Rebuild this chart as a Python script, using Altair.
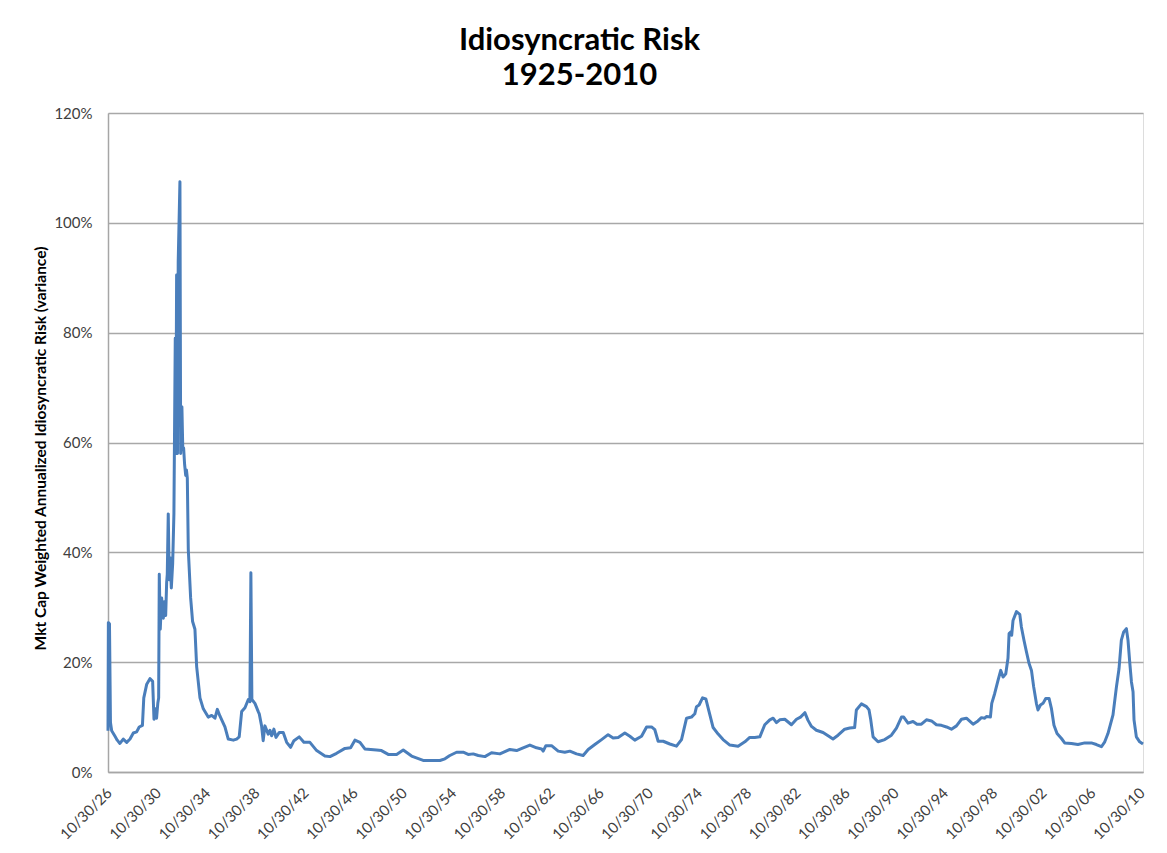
import altair as alt
import pandas as pd

# Decimal year of each reading and idiosyncratic risk (variance, in %)
years = [
    1926.75, 1926.78, 1926.87, 1926.95, 1927.05, 1927.32, 1927.50, 1927.72, 1927.99, 1928.27,
    1928.54, 1928.81, 1929.08, 1929.29, 1929.55, 1929.66, 1929.90, 1930.16, 1930.38, 1930.49,
    1930.60, 1930.70, 1930.80, 1930.87, 1930.92, 1931.00, 1931.11, 1931.25, 1931.33, 1931.44,
    1931.52, 1931.57, 1931.65, 1931.73, 1931.81, 1931.90, 1932.01, 1932.11, 1932.22, 1932.27,
    1932.33, 1932.40, 1932.46, 1932.60, 1932.66, 1932.76, 1932.83, 1932.90, 1932.98, 1933.07,
    1933.13, 1933.20, 1933.28, 1933.47, 1933.63, 1933.82, 1933.96, 1934.23, 1934.50, 1934.90,
    1935.18, 1935.45, 1935.64, 1935.85, 1936.26, 1936.53, 1936.94, 1937.21, 1937.42, 1937.62,
    1937.89, 1938.16, 1938.29, 1938.37, 1938.45, 1938.70, 1938.97, 1939.05, 1939.24, 1939.37,
    1939.51, 1939.78, 1939.92, 1940.06, 1940.24, 1940.41, 1940.68, 1941.00, 1941.28, 1941.60,
    1941.87, 1942.30, 1942.68, 1943.17, 1943.72, 1944.39, 1944.80, 1945.34, 1946.02, 1946.48,
    1946.83, 1947.24, 1947.64, 1948.59, 1948.99, 1949.54, 1950.22, 1950.76, 1951.44, 1952.38,
    1953.74, 1954.15, 1954.55, 1955.10, 1955.64, 1956.04, 1956.45, 1956.86, 1957.40, 1957.94,
    1958.62, 1959.43, 1959.98, 1960.51, 1961.06, 1961.60, 1962.01, 1962.14, 1962.36, 1962.82,
    1963.36, 1963.90, 1964.31, 1964.85, 1965.39, 1965.80, 1966.34, 1966.89, 1967.42, 1967.83,
    1968.24, 1968.78, 1969.19, 1969.59, 1970.14, 1970.55, 1970.95, 1971.22, 1971.49, 1971.90,
    1972.44, 1972.98, 1973.39, 1973.80, 1974.20, 1974.47, 1974.61, 1974.82, 1975.10, 1975.37,
    1975.63, 1975.96, 1976.37, 1976.77, 1977.32, 1977.99, 1978.54, 1978.94, 1979.35, 1979.76,
    1980.16, 1980.57, 1980.84, 1981.11, 1981.38, 1981.79, 1982.33, 1982.74, 1983.07, 1983.42,
    1983.68, 1983.96, 1984.36, 1984.90, 1985.31, 1985.71, 1986.12, 1986.66, 1987.07, 1987.47,
    1987.61, 1988.02, 1988.43, 1988.64, 1988.78, 1988.97, 1989.37, 1989.92, 1990.46, 1990.87,
    1991.28, 1991.46, 1991.81, 1992.22, 1992.54, 1992.90, 1993.31, 1993.72, 1994.12, 1994.53,
    1994.94, 1995.34, 1995.75, 1996.16, 1996.56, 1997.10, 1997.50, 1997.78, 1998.05, 1998.19,
    1998.51, 1998.62, 1998.86, 1999.13, 1999.35, 1999.54, 1999.76, 1999.94, 2000.03, 2000.16,
    2000.24, 2000.35, 2000.63, 2000.90, 2001.03, 2001.24, 2001.44, 2001.65, 2001.85, 2002.03,
    2002.25, 2002.38, 2002.58, 2002.79, 2003.01, 2003.28, 2003.47, 2003.68, 2003.93, 2004.29,
    2004.55, 2005.10, 2005.63, 2006.18, 2006.72, 2007.13, 2007.54, 2007.81, 2008.07, 2008.48,
    2008.76, 2008.97, 2009.16, 2009.35, 2009.57, 2009.70, 2009.84, 2009.98, 2010.11, 2010.19,
    2010.38, 2010.65, 2010.92,
]
risk_pct = [
    7.5, 27.2, 27.0, 9.0, 7.5, 6.5, 5.8, 5.2, 6.0, 5.4,
    6.0, 7.1, 7.3, 8.2, 8.5, 13.5, 16.0, 17.0, 16.5, 9.6,
    11.5, 9.8, 12.5, 13.5, 36.0, 26.0, 31.7, 28.0, 31.0, 28.5,
    34.5, 36.0, 47.0, 35.0, 39.0, 33.5, 38.0, 47.0, 79.0, 58.0,
    90.5, 58.0, 93.0, 107.5, 58.0, 66.5, 59.0, 59.0, 56.0, 54.0,
    55.0, 53.5, 40.5, 31.7, 27.4, 26.0, 19.2, 13.5, 11.5, 10.0,
    10.3, 9.8, 11.4, 10.2, 8.2, 6.0, 5.8, 6.0, 6.4, 11.0,
    11.7, 13.2, 12.8, 36.3, 13.2, 12.5, 11.0, 10.6, 8.4, 5.7,
    8.4, 6.9, 7.6, 6.6, 7.8, 6.3, 7.2, 7.2, 5.4, 4.5,
    5.7, 6.4, 5.4, 5.4, 3.9, 2.9, 2.8, 3.4, 4.3, 4.4,
    5.8, 5.4, 4.2, 4.0, 3.9, 3.2, 3.2, 4.0, 2.9, 2.1,
    2.1, 2.4, 3.0, 3.6, 3.6, 3.2, 3.3, 3.0, 2.8, 3.5,
    3.3, 4.1, 3.9, 4.4, 4.9, 4.4, 4.2, 3.8, 4.8, 4.8,
    3.8, 3.6, 3.8, 3.3, 3.0, 4.1, 5.0, 5.9, 6.8, 6.2,
    6.3, 7.1, 6.5, 5.8, 6.5, 8.2, 8.2, 7.7, 5.6, 5.6,
    5.1, 4.7, 5.9, 9.8, 10.0, 10.6, 11.9, 12.2, 13.5, 13.3,
    11.0, 8.1, 6.9, 5.9, 4.9, 4.7, 5.5, 6.3, 6.3, 6.4,
    8.6, 9.5, 9.8, 9.0, 9.5, 9.6, 8.6, 9.6, 10.0, 10.8,
    9.4, 8.3, 7.6, 7.2, 6.6, 6.0, 6.7, 7.8, 8.0, 8.1,
    11.3, 12.4, 11.9, 11.3, 9.5, 6.4, 5.5, 5.9, 6.7, 8.0,
    10.0, 10.0, 8.9, 9.2, 8.7, 8.7, 9.5, 9.3, 8.6, 8.5,
    8.2, 7.8, 8.4, 9.6, 9.8, 8.7, 9.3, 9.9, 9.8, 10.1,
    10.0, 12.5, 14.3, 16.7, 18.5, 17.3, 17.9, 20.7, 25.2, 25.5,
    24.9, 27.6, 29.2, 28.7, 26.4, 24.0, 21.9, 19.8, 18.5, 15.5,
    12.5, 11.3, 12.2, 12.5, 13.4, 13.4, 11.6, 8.5, 7.0, 6.1,
    5.3, 5.2, 5.0, 5.3, 5.3, 5.0, 4.6, 5.5, 7.0, 10.4,
    15.5, 18.8, 24.0, 25.5, 26.1, 24.0, 20.0, 16.4, 14.6, 9.5,
    6.4, 5.5, 5.1,
]

# Category labels of the x axis (10/30 of every fourth year)
label_years = list(range(1926, 2011, 4))
tick_positions = [y + 0.83 for y in label_years]
y_ticks = [0, 0.2, 0.4, 0.6, 0.8, 1.0, 1.2]

df = pd.DataFrame({"year": years, "risk": [v / 100 for v in risk_pct]})

font = "Lato"

line = alt.Chart(df).mark_line(color="#4a7ebb", strokeWidth=3, strokeJoin="round").encode(
    x=alt.X(
        "year:Q",
        scale=alt.Scale(domain=[1926.75, 2010.92], nice=False, zero=False),
        axis=alt.Axis(
            values=tick_positions,
            labelExpr="'10/30/' + substring(toString(floor(datum.value)), 2, 4)",
            labelAngle=-45,
            labelAlign="right",
            labelBaseline="middle",
            labelPadding=18,
            labelFontSize=15,
            labelColor="#404040",
            labelFont=font,
            ticks=False,
            grid=False,
            domainColor="#a6a6a6",
            domainWidth=1.5,
            title=None,
            labelOverlap=False,
        ),
    ),
    y=alt.Y(
        "risk:Q",
        scale=alt.Scale(domain=[0, 1.2], nice=False),
        axis=alt.Axis(
            values=y_ticks,
            format=".0%",
            labelFontSize=15,
            labelColor="#404040",
            labelFont=font,
            labelPadding=16,
            ticks=False,
            grid=True,
            gridColor="#a8a8a8",
            gridWidth=1.6,
            domainColor="#a6a6a6",
            domainWidth=1.5,
            title="Mkt Cap Weighted Annualized Idiosyncratic  Risk (variance)",
            titleFont=font,
            titleFontSize=15.5,
            titleFontWeight="bold",
            titleColor="#000000",
            titleAngle=-90,
            titleAlign="center",
            titleBaseline="middle",
            titleX=-68,
            titleY=335,
        ),
    ),
)

chart = line.properties(
    width=1035,
    height=659,
    padding={"left": 100, "top": 105, "right": 16, "bottom": 73},
    autosize=alt.AutoSizeParams(type="none"),
    title=alt.TitleParams(
        text=["Idiosyncratic Risk", "1925-2010"],
        font=font,
        fontSize=31,
        fontWeight="bold",
        color="#000000",
        anchor="middle",
        dx=-46,
        offset=14,
        lineHeight=35,
    ),
).configure_view(stroke=None).configure(background="white")

chart.save("out.html", embed_options={"renderer": "svg", "actions": False})
